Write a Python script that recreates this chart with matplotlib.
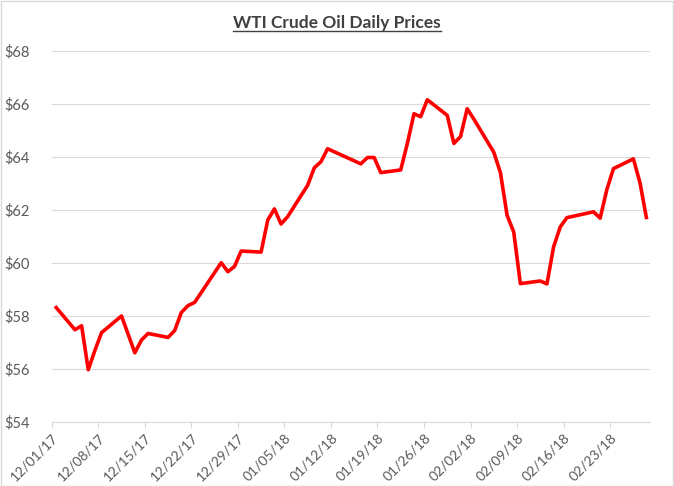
import numpy as np
import pandas as pd
import matplotlib
matplotlib.use("Agg")
from matplotlib import pyplot as plt
from matplotlib.lines import Line2D
from matplotlib.patches import Rectangle

dates = ["12/01/17", "12/04/17", "12/05/17", "12/06/17", "12/07/17", "12/08/17",
         "12/11/17", "12/12/17", "12/13/17", "12/14/17", "12/15/17",
         "12/18/17", "12/19/17", "12/20/17", "12/21/17", "12/22/17",
         "12/26/17", "12/27/17", "12/28/17", "12/29/17",
         "01/01/18", "01/02/18", "01/03/18", "01/04/18", "01/05/18",
         "01/08/18", "01/09/18", "01/10/18", "01/11/18",
         "01/16/18", "01/17/18", "01/18/18", "01/19/18",
         "01/22/18", "01/23/18", "01/24/18", "01/25/18", "01/26/18",
         "01/29/18", "01/30/18", "01/31/18", "02/01/18", "02/02/18",
         "02/05/18", "02/06/18", "02/07/18", "02/08/18", "02/09/18",
         "02/12/18", "02/13/18", "02/14/18", "02/15/18", "02/16/18",
         "02/20/18", "02/21/18", "02/22/18", "02/23/18",
         "02/26/18", "02/27/18", "02/28/18"]
prices = [58.36, 57.47, 57.62, 55.96, 56.69, 57.36,
          57.99, 57.30, 56.60, 57.08, 57.33,
          57.18, 57.44, 58.12, 58.38, 58.50,
          60.00, 59.66, 59.86, 60.44,
          60.40, 61.61, 62.03, 61.46, 61.74,
          62.92, 63.58, 63.81, 64.30,
          63.73, 63.97, 63.97, 63.40,
          63.50, 64.50, 65.62, 65.51, 66.15,
          65.56, 64.50, 64.76, 65.81, 65.42,
          64.17, 63.40, 61.79, 61.16, 59.21,
          59.31, 59.20, 60.60, 61.35, 61.70,
          61.92, 61.68, 62.75, 63.55,
          63.92, 63.01, 61.64]
y_ticks = [54, 56, 58, 60, 62, 64, 66, 68]

plt.rcParams["font.family"] = ["Lato", "DejaVu Sans"]

W, H = 674, 486
fig = plt.figure(figsize=(W / 100, H / 100), dpi=100)
ax = fig.add_axes([51.7 / W, 1 - 421.7 / H, (650 - 51.7) / W, (421.7 - 50.7) / H])

# points sit in the middle of each day slot, like an Excel date axis
x = pd.to_datetime(dates, format="%m/%d/%y") + pd.Timedelta(hours=12)
ax.plot(x, prices, color="#ff0000", linewidth=2.6, solid_joinstyle="round",
        solid_capstyle="butt", zorder=3)

ax.set_xlim(pd.Timestamp("2017-12-01"), pd.Timestamp("2018-03-01"))
ax.set_ylim(54, 68)

week_ticks = pd.date_range("2017-12-01", "2018-02-23", freq="7D")
ax.set_xticks(week_ticks)
ax.set_xticklabels([d.strftime("%m/%d/%y") for d in week_ticks],
                   rotation=45, ha="right", va="top", rotation_mode="anchor",
                   fontsize=10, color="#595959")
ax.set_yticks(y_ticks)
ax.set_yticklabels(["$%d" % v for v in y_ticks], fontsize=10.5, color="#595959")

ax.grid(axis="y", color="#d9d9d9", linewidth=0.8)
ax.set_axisbelow(True)
for side in ["top", "right", "left"]:
    ax.spines[side].set_visible(False)
ax.spines["bottom"].set_color("#d9d9d9")
ax.spines["bottom"].set_linewidth(0.8)
ax.tick_params(axis="y", length=0, pad=16)
ax.tick_params(axis="x", length=4, width=0.8, color="#d9d9d9", pad=3)

# title with underline
title_base = 28
title = fig.text(0.5, 1 - title_base / H, "WTI Crude Oil Daily Prices",
                 ha="center", va="baseline", fontsize=12.5, fontweight="bold",
                 color="#404040")
fig.canvas.draw()
bb = title.get_window_extent(fig.canvas.get_renderer())
uy = 1 - (title_base + 3.5) / H
fig.add_artist(Line2D([bb.x0 / W, bb.x1 / W], [uy, uy], transform=fig.transFigure,
                      color="#404040", linewidth=1.0))

# chart border
fig.add_artist(Rectangle((0.5 / W, 0.5 / H), 1 - 1.5 / W, 1 - 1.5 / H,
                         transform=fig.transFigure, fill=False,
                         edgecolor="#d9d9d9", linewidth=1.0))

fig.savefig("out.png", dpi=100)
